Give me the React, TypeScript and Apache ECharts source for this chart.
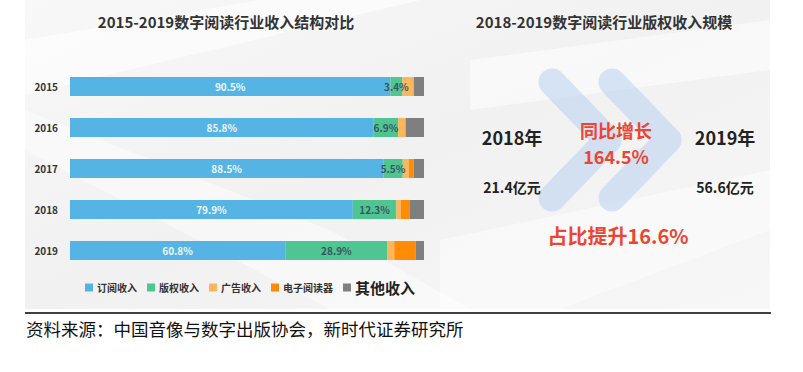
import React, { useEffect, useRef } from "react";
import * as echarts from "echarts";

const years = ["2015", "2016", "2017", "2018", "2019"];
const seriesNames = ["订阅收入", "版权收入", "广告收入", "电子阅读器", "其他收入"];
const subscription = [90.5, 85.8, 88.5, 79.9, 60.8];
const copyright = [3.4, 6.9, 5.5, 12.3, 28.9];
const advertising = [3.2, 2.1, 1.7, 1.3, 1.9];
const ereader = [0, 0, 1.4, 2.4, 6.0];
const other = [2.9, 5.2, 2.9, 4.1, 2.4];

const leftTitle = "2015-2019数字阅读行业收入结构对比";
const rightTitle = "2018-2019数字阅读行业版权收入规模";
const yearFrom = "2018年";
const yearTo = "2019年";
const valueFrom = "21.4亿元";
const valueTo = "56.6亿元";
const growthLabel = "同比增长";
const growthValue = "164.5%";
const shareLabel = "占比提升16.6%";
const source = "资料来源：中国音像与数字出版协会，新时代证券研究所";

const colors = ["#56b4e4", "#4fc592", "#fdb65c", "#ff8b07", "#7f7f7f"];
const FONT = "'Noto Sans CJK SC', 'Noto Sans', sans-serif";

export default function App() {
  const ref = useRef<HTMLDivElement>(null);
  useEffect(() => {
    if (!ref.current) return;
    const chart = echarts.init(ref.current, undefined, { renderer: "svg" });
    const values = [subscription, copyright, advertising, ereader, other];
    const fmt = (p: any) => (p.value > 0 ? Number(p.value).toFixed(1) + "%" : "");
    const series = values.map((arr, i) => ({
      name: seriesNames[i],
      type: "bar",
      stack: "total",
      barWidth: 19,
      data: arr,
      itemStyle: { color: colors[i] },
      label:
        i < 2
          ? {
              show: true,
              position: "inside",
              formatter: fmt,
              fontFamily: FONT,
              fontSize: 10,
              fontWeight: "bold",
              color: i === 0 ? "#eef8fd" : "#3b5464",
            }
          : { show: false },
      emphasis: { disabled: true },
      z: 5,
    }));

    const chev = (x0: number) => ({
      type: "polyline",
      z: 1,
      shape: {
        points: [
          [x0, 82],
          [x0 + 56, 140],
          [x0, 198],
        ],
      },
      style: {
        stroke: "rgba(180,206,240,0.5)",
        lineWidth: 27,
        lineCap: "round",
        lineJoin: "round",
        fill: null,
      },
    });

    const txt = (
      text: string,
      x: number,
      y: number,
      size: number,
      color: string,
      align = "center",
      weight: any = "bold"
    ) => ({
      type: "text",
      z: 20,
      x,
      y,
      style: {
        text,
        fontFamily: FONT,
        fontSize: size,
        fontWeight: weight,
        fill: color,
        align,
        verticalAlign: "middle",
      },
    });

    chart.setOption({
      animation: false,
      grid: { left: 70, width: 354, top: 66, height: 205 },
      xAxis: { type: "value", min: 0, max: 100, show: false },
      yAxis: {
        type: "category",
        data: years,
        inverse: true,
        axisLine: { show: false },
        axisTick: { show: false },
        axisLabel: {
          margin: 12,
          fontFamily: FONT,
          fontSize: 10,
          fontWeight: "bold",
          color: "#333",
        },
      },
      legend: {
        left: 80,
        top: 275,
        itemWidth: 8,
        itemHeight: 8,
        itemGap: 10,
        icon: "rect",
        selectedMode: false,
        textStyle: { fontFamily: FONT, fontSize: 10, fontWeight: "bold", color: "#333", padding: [0, 0, 0, -1] },
        data: seriesNames.map((n, i) =>
          i === 4
            ? { name: n, textStyle: { fontSize: 15, fontWeight: "bold", color: "#222" } }
            : { name: n }
        ),
      },
      graphic: [
        {
          type: "rect",
          z: -10,
          shape: { x: 25, y: 0, width: 745, height: 309 },
          style: {
            fill: new echarts.graphic.LinearGradient(0, 0, 1, 1, [
              { offset: 0, color: "#f8f8f8" },
              { offset: 0.5, color: "#f1f1f1" },
              { offset: 1, color: "#f7f7f7" },
            ]),
          },
        },
        {
          type: "polygon",
          z: -9,
          shape: { points: [[25, 40], [260, 0], [420, 0], [25, 95]] },
          style: { fill: "rgba(255,255,255,0.6)" },
        },
        {
          type: "polygon",
          z: -9,
          shape: { points: [[25, 110], [330, 230], [470, 309], [330, 309], [25, 150]] },
          style: { fill: "rgba(255,255,255,0.45)" },
        },
        {
          type: "polygon",
          z: -9,
          shape: { points: [[470, 60], [770, 20], [770, 70], [470, 110]] },
          style: { fill: "rgba(255,255,255,0.5)" },
        },
        {
          type: "polygon",
          z: -9,
          shape: { points: [[440, 240], [770, 170], [770, 230], [560, 309], [440, 309]] },
          style: { fill: "rgba(255,255,255,0.45)" },
        },
        chev(552),
        chev(612),
        txt(leftTitle, 226, 21, 15, "#333"),
        txt(rightTitle, 604, 21, 15, "#333"),
        txt(yearFrom, 512, 137, 18, "#222"),
        txt(yearTo, 725, 137, 18, "#222"),
        txt(valueFrom, 512, 187, 14, "#222"),
        txt(valueTo, 725, 187, 14, "#222"),
        txt(growthLabel, 616, 130, 18, "#ec4531"),
        txt(growthValue, 616, 156, 18, "#ec4531"),
        txt(shareLabel, 618, 235, 20, "#ec4531"),
        {
          type: "line",
          z: 20,
          shape: { x1: 25, y1: 313, x2: 771, y2: 313 },
          style: { stroke: "#000", lineWidth: 1.5 },
        },
        txt(source, 26, 328, 17.5, "#111", "left", "normal"),
      ],
      series,
    });
    return () => chart.dispose();
  }, []);
  return (
    <div
      ref={ref}
      style={{ position: "fixed", left: 0, top: 0, width: 803, height: 372, background: "#fff" }}
    />
  );
}
